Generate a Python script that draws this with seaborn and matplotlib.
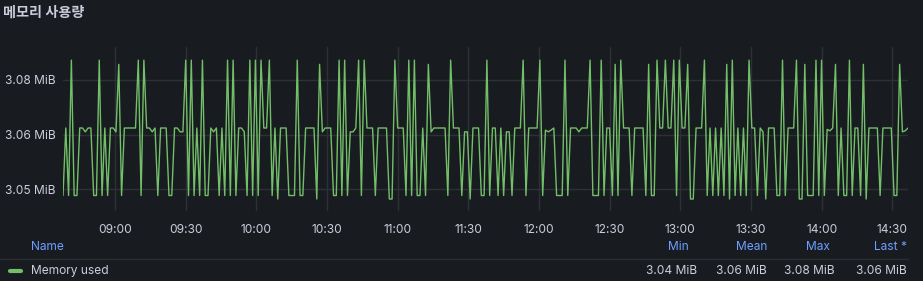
import numpy as np
import pandas as pd
import matplotlib
matplotlib.use("Agg")
import matplotlib.pyplot as plt
import matplotlib.dates as mdates
from matplotlib.lines import Line2D
import seaborn as sns

# ---------------- data ----------------
title = "메모리 사용량"
series_name = "Memory used"
start_time = "2024-01-01 08:37:50"
end_time = "2024-01-01 14:36:40"
x_tick_labels = ["09:00", "09:30", "10:00", "10:30", "11:00", "11:30", "12:00",
                 "12:30", "13:00", "13:30", "14:00", "14:30"]
y_ticks = [3.046875, 3.0625, 3.078125]
y_tick_labels = ["3.05 MiB", "3.06 MiB", "3.08 MiB"]
stat_names = ["Min", "Mean", "Max", "Last *"]

mem_a = [3.0451, 3.0644, 3.0451, 3.0838, 3.0451, 3.0451, 3.0644, 3.0644, 3.0633, 3.0644,
         3.0644, 3.0451, 3.0451, 3.0838, 3.0451, 3.0644, 3.0451, 3.0644, 3.0644, 3.0633,
         3.0826, 3.0451, 3.0644, 3.0644, 3.0644, 3.0644, 3.0644, 3.0838, 3.0451, 3.0838,
         3.0644, 3.0644, 3.0633, 3.0644, 3.0451, 3.0644, 3.0644, 3.0644, 3.0451, 3.0451,
         3.0644, 3.0644, 3.0633, 3.0633, 3.0838, 3.0451, 3.0838]
mem_b = [3.0451, 3.0644, 3.0451, 3.0838, 3.0451, 3.0451, 3.0644, 3.0633, 3.0644, 3.0451,
         3.0644, 3.0451, 3.0838, 3.0451, 3.0838, 3.0451, 3.0644, 3.0644, 3.0633, 3.0451,
         3.0838, 3.0451, 3.0838, 3.0451, 3.0838, 3.0644, 3.0644, 3.0838, 3.0451, 3.0644,
         3.0441, 3.0644, 3.0644, 3.0644, 3.0451, 3.0451, 3.0451, 3.0838, 3.0451, 3.0451,
         3.0644, 3.0644, 3.0644, 3.0644, 3.0441, 3.0826, 3.0633, 3.0644, 3.0644]
mem_c = [3.0644, 3.0451, 3.0451, 3.0838, 3.0451, 3.0838, 3.0451, 3.0633, 3.0633, 3.0644,
         3.0838, 3.0451, 3.0838, 3.0644, 3.0644, 3.0644, 3.0451, 3.0644, 3.0644, 3.0644,
         3.0644, 3.0441, 3.0441, 3.0838, 3.0644, 3.0644, 3.0644, 3.0451, 3.0838, 3.0451,
         3.0838, 3.0451, 3.0451, 3.0644, 3.0451, 3.0826, 3.0633, 3.0644, 3.0644, 3.0644,
         3.0644, 3.0644, 3.0451, 3.0838, 3.0644, 3.0644, 3.0644, 3.0451, 3.0633, 3.0633,
         3.0441, 3.0644, 3.0644]
mem_d = [3.0644, 3.0451, 3.0451, 3.0838, 3.0451, 3.0644, 3.0644, 3.0451, 3.0644, 3.0451,
         3.0633, 3.0633, 3.0451, 3.0644, 3.0644, 3.0644, 3.0838, 3.0451, 3.0644, 3.0644,
         3.0644, 3.0644, 3.0838, 3.0451, 3.0638, 3.0633, 3.0638, 3.0644, 3.0451, 3.0451,
         3.0451, 3.0838, 3.0451, 3.0644, 3.0644, 3.0644, 3.0633, 3.0644, 3.0644, 3.0644,
         3.0838, 3.0451, 3.0451, 3.0451, 3.0838, 3.0451, 3.0644, 3.0644, 3.0451, 3.0826,
         3.0451, 3.0838]
mem_e = [3.0644, 3.0644, 3.0644, 3.0451, 3.0644, 3.0644, 3.0644, 3.0644, 3.0451, 3.0826,
         3.0451, 3.0451, 3.0838, 3.0644, 3.0644, 3.0838, 3.0644, 3.0644, 3.0838, 3.0451,
         3.0838, 3.0644, 3.0644, 3.0826, 3.0441, 3.0441, 3.0644, 3.0644, 3.0644, 3.0838,
         3.0451, 3.0644, 3.0451, 3.0644, 3.0451, 3.0644, 3.0451, 3.0826, 3.0441, 3.0838,
         3.0451, 3.0644, 3.0451, 3.0644, 3.0451, 3.0838, 3.0644, 3.0644, 3.0451, 3.0644,
         3.0633, 3.0441, 3.0644, 3.0644]
mem_f = [3.0644, 3.0451, 3.0451, 3.0838, 3.0451, 3.0644, 3.0644, 3.0644, 3.0838, 3.0441,
         3.0441, 3.0826, 3.0451, 3.0451, 3.0451, 3.0838, 3.0451, 3.0838, 3.0451, 3.0640,
         3.0636, 3.0644, 3.0826, 3.0451, 3.0644, 3.0451, 3.0451, 3.0838, 3.0451, 3.0644,
         3.0644, 3.0451, 3.0826, 3.0441, 3.0644, 3.0644, 3.0644, 3.0644, 3.0451, 3.0644,
         3.0644, 3.0644, 3.0644, 3.0451, 3.0451, 3.0826, 3.0633, 3.0636, 3.0644]

# ---------------- style ----------------
W, H = 923, 281
BG = "#181b1f"
GRID = "#2d3035"
TEXT = "#ccccdc"
BLUE = "#6e9fff"
GREEN = "#73bf69"

sns.set_theme(style="dark")
plt.rcParams["font.family"] = ["Inter", "Noto Sans CJK KR", "DejaVu Sans"]
plt.rcParams["axes.unicode_minus"] = False

values = np.array(mem_a + mem_b + mem_c + mem_d + mem_e + mem_f)
times = pd.date_range(start_time, end_time, periods=len(values))
df = pd.DataFrame({"time": times, "value": values})

fig = plt.figure(figsize=(W / 100, H / 100), dpi=100, facecolor=BG)


def fx(x):
    return x / W


def fy(y):
    return 1 - y / H


ax = fig.add_axes([fx(63), fy(211), (908 - 63) / W, (211 - 47) / H])
ax.set_facecolor(BG)
sns.lineplot(data=df, x="time", y="value", ax=ax, color=GREEN, linewidth=1.0, legend=False)

for s in ax.spines.values():
    s.set_visible(False)

ax.set_ylim(3.04067, 3.08756)
ax.set_xlim(mdates.date2num(pd.Timestamp(start_time)), mdates.date2num(pd.Timestamp(end_time)))
ax.set_yticks(y_ticks, y_tick_labels)
xt = [mdates.date2num(pd.Timestamp("2024-01-01 " + t)) for t in x_tick_labels]
ax.set_xticks(xt, x_tick_labels)
ax.set_xlabel("")
ax.set_ylabel("")
ax.grid(True, color=GRID, linewidth=1.0)
ax.set_axisbelow(True)
ax.tick_params(axis="y", length=0, pad=5.5, labelsize=8.6, labelcolor=TEXT)
ax.tick_params(axis="x", length=5.2, width=1.0, color=GRID, pad=4.0, labelsize=8.6, labelcolor=TEXT)

# title
fig.text(fx(3), fy(13), title, color=TEXT, fontsize=10.2, fontweight="bold",
         ha="left", va="center")

# legend table
fig.add_artist(Line2D([fx(0), fx(908)], [fy(259), fy(259)], color="#2a2d32", lw=1.0))
fig.text(fx(31), fy(246.5), "Name", color=BLUE, fontsize=8.6, ha="left", va="center")
hdr_x = [689, 767, 830, 907]
for name, x in zip(stat_names, hdr_x):
    fig.text(fx(x), fy(246.5), name, color=BLUE, fontsize=8.6, ha="right", va="center")

fig.add_artist(Line2D([fx(9.5), fx(21)], [fy(271), fy(271)], color=GREEN, lw=3.0,
                      solid_capstyle="round"))
fig.text(fx(31), fy(271), series_name, color=TEXT, fontsize=8.6, ha="left", va="center")
stats = [values.min(), values.mean(), values.max(), values[-1]]
val_x = [697, 767, 835, 907]
for v, x in zip(stats, val_x):
    fig.text(fx(x), fy(271), f"{v:.2f} MiB", color=TEXT, fontsize=8.6, ha="right", va="center")

fig.savefig("out.png", dpi=100, facecolor=BG)
